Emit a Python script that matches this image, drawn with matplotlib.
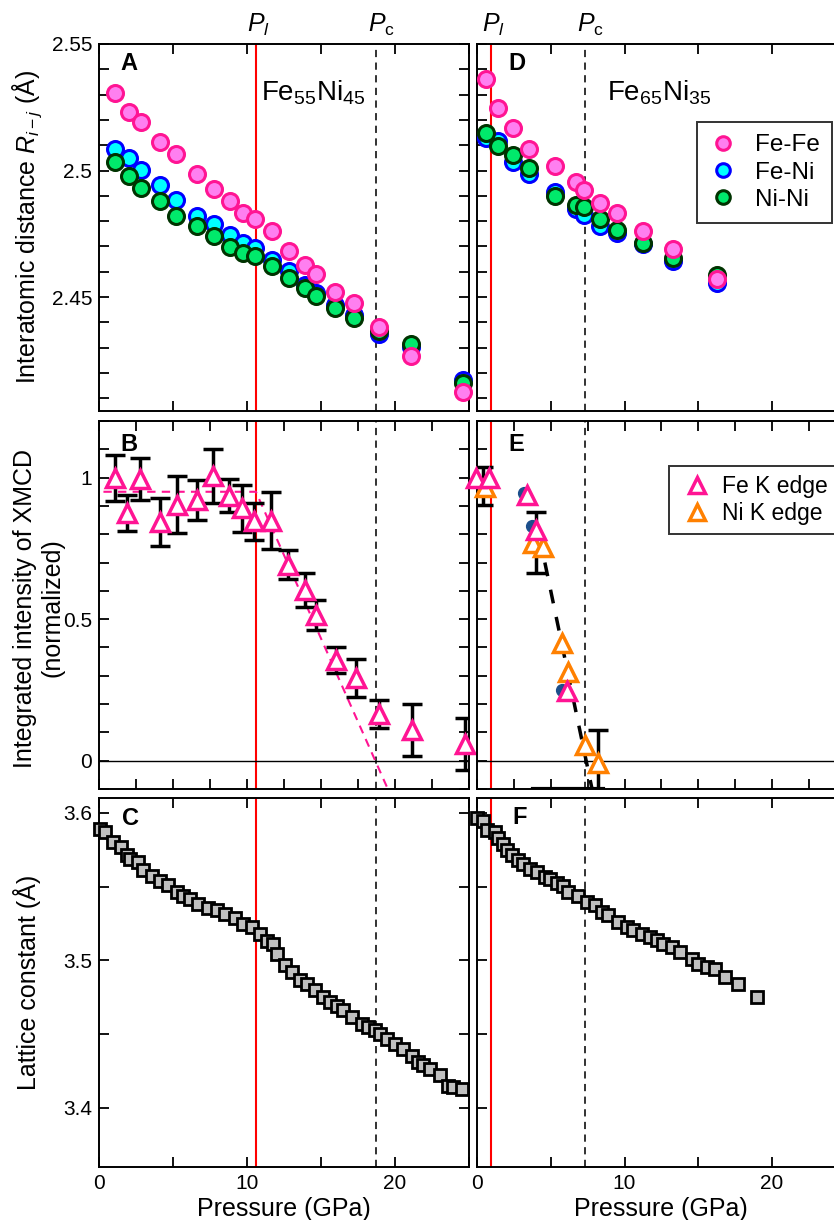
import matplotlib
matplotlib.use("Agg")
import matplotlib.pyplot as plt
import matplotlib.transforms as mtransforms
from matplotlib.ticker import MultipleLocator, FuncFormatter, FixedLocator

plt.rcParams['font.family'] = ['Liberation Sans', 'DejaVu Sans']
plt.rcParams['mathtext.fontset'] = 'custom'
plt.rcParams['mathtext.rm'] = 'Liberation Sans'
plt.rcParams['mathtext.it'] = 'Liberation Sans:italic'
plt.rcParams['mathtext.bf'] = 'Liberation Sans:bold'

# ---------------- data ----------------
# Panel A: Fe55Ni45 interatomic distances
pA = [1.08, 2.03, 2.82, 4.12, 5.23, 6.6, 7.75, 8.87, 9.71, 10.52, 11.67, 12.82,
      13.92, 14.64, 15.95, 17.25, 18.94, 21.08, 24.6]
feFeA = [2.5305, 2.5232, 2.5190, 2.5112, 2.5067, 2.4987, 2.4928, 2.4878, 2.4832,
         2.4807, 2.4761, 2.4684, 2.4626, 2.4592, 2.4521, 2.4478, 2.4383, 2.4268, 2.4124]
feNiA = [2.5085, 2.5049, 2.5003, 2.4944, 2.4882, 2.4819, 2.4790, 2.4744, 2.4714,
         2.4694, 2.4646, 2.4602, 2.4546, 2.4517, 2.4467, 2.4431, 2.4353, 2.4301, 2.4172]
niNiA = [2.5035, 2.4980, 2.4933, 2.4878, 2.4822, 2.4782, 2.4743, 2.4698, 2.4675,
         2.4661, 2.4622, 2.4576, 2.4537, 2.4504, 2.4456, 2.4419, 2.4366, 2.4314, 2.4159]

# Panel D: Fe65Ni35 interatomic distances
pD = [0.61, 1.44, 2.46, 3.53, 5.31, 6.71, 7.28, 8.34, 9.47, 11.28, 13.31, 16.25]
feFeD = [2.5361, 2.5248, 2.5169, 2.5085, 2.5017, 2.4956, 2.4924, 2.4872, 2.4832,
         2.4761, 2.4691, 2.4572]
feNiD = [2.5128, 2.5117, 2.5035, 2.4987, 2.4915, 2.4849, 2.4823, 2.4780, 2.4754,
         2.4711, 2.4642, 2.4554]
niNiD = [2.5147, 2.5098, 2.5062, 2.5012, 2.4898, 2.4865, 2.4856, 2.4809, 2.4767,
         2.4714, 2.4655, 2.4589]

# Panel B: XMCD Fe K edge, Fe55Ni45
pB = [1.08, 1.91, 2.77, 4.12, 5.25, 6.6, 7.72, 8.81, 9.64, 10.47, 11.62, 12.79,
      13.92, 14.64, 15.99, 17.34, 18.92, 21.13, 24.73]
xmcdB = [1.0, 0.875, 0.995, 0.843, 0.905, 0.922, 1.005, 0.936, 0.892, 0.846, 0.848,
         0.693, 0.604, 0.515, 0.355, 0.292, 0.165, 0.107, 0.060]
errB = [0.081, 0.065, 0.073, 0.084, 0.10, 0.07, 0.096, 0.058, 0.083, 0.066, 0.10,
        0.05, 0.06, 0.052, 0.045, 0.067, 0.05, 0.092, 0.092]
fitB_x = [0.3, 10.6, 19.6]
fitB_y = [0.95, 0.95, -0.11]

# Panel E: XMCD Fe65Ni35
feK_x = [-0.07, 0.81, 3.41, 4.0, 6.08]
feK_y = [1.0, 1.0, 0.939, 0.815, 0.245]
niK_x = [0.54, 3.82, 4.5, 5.74, 6.19, 7.32, 8.22]
niK_y = [0.968, 0.768, 0.756, 0.415, 0.315, 0.056, -0.008]
dot_x = [3.2, 3.7, 5.75]
dot_y = [0.945, 0.83, 0.25]
errE_x = [0.41, 4.0, 8.2]
errE_y = [0.971, 0.772, -0.008]
errE = [0.068, 0.108, 0.117]
fitE_x = [4.6, 7.8]
fitE_y = [0.70, -0.10]

# Panel C: lattice constant Fe55Ni45
pC = [0.07, 0.41, 0.97, 1.46, 1.91, 2.09, 2.66, 3.0, 3.56, 4.12, 4.68, 5.25, 5.70,
      6.15, 6.71, 7.39, 7.95, 8.51, 9.19, 9.75, 10.32, 10.88, 11.33, 11.78, 12.0,
      12.57, 13.02, 13.58, 14.03, 14.59, 15.16, 15.61, 16.06, 16.51, 17.07, 17.75,
      18.2, 18.65, 18.99, 19.44, 20.0, 20.56, 21.13, 21.58, 21.91, 22.36, 23.04,
      23.6, 23.94, 24.5]
latC = [3.589, 3.5871, 3.5803, 3.5769, 3.5713, 3.569, 3.5668, 3.5611, 3.557, 3.5539,
        3.5509, 3.5464, 3.5434, 3.5419, 3.5385, 3.5358, 3.534, 3.5317, 3.529, 3.5249,
        3.5226, 3.5181, 3.5131, 3.5109, 3.5045, 3.4966, 3.4921, 3.4864, 3.4842,
        3.4796, 3.4751, 3.4717, 3.4688, 3.4661, 3.4615, 3.457, 3.4547, 3.4525,
        3.4502, 3.4468, 3.4434, 3.44, 3.4355, 3.431, 3.4294, 3.4265, 3.422, 3.4151,
        3.414, 3.4129]

# Panel F: lattice constant Fe65Ni35
pF = [0.02, 0.43, 0.66, 1.22, 1.45, 1.79, 2.01, 2.35, 2.8, 3.14, 3.59, 4.05, 4.61,
      4.95, 5.45, 5.81, 6.19, 6.87, 7.44, 8.0, 8.45, 8.9, 9.58, 10.15, 10.6, 11.16,
      11.73, 12.18, 12.63, 13.2, 13.76, 14.55, 15.0, 15.57, 16.14, 16.81, 17.72, 18.96]
latF = [3.5962, 3.5946, 3.5883, 3.5871, 3.5826, 3.5788, 3.5747, 3.5713, 3.5679,
        3.5656, 3.5622, 3.56, 3.5566, 3.5554, 3.5521, 3.5502, 3.5464, 3.5434, 3.5396,
        3.5373, 3.5328, 3.5306, 3.526, 3.5226, 3.5204, 3.5181, 3.5158, 3.5136,
        3.5109, 3.509, 3.5057, 3.5011, 3.4977, 3.4955, 3.4943, 3.4887, 3.4842, 3.4751]

# transition pressures
Pl_left, Pc_left = 10.6, 18.7
Pl_right, Pc_right = 0.97, 7.32

# ---------------- styling ----------------
PINK_EDGE = '#ff1493'
PINK_FACE = '#ff7ff0'
BLUE_EDGE = '#0000ff'
CYAN_FACE = '#00ffff'
GREEN_EDGE = '#003300'
GREEN_FACE = '#00e96b'
ORANGE = '#ff8000'
NAVY = '#1c4f8c'
GRAY = '#c0c0c0'

W, H = 834, 1220
fig = plt.figure(figsize=(W / 100, H / 100), dpi=100)


def axpos(x0, y0, x1, y1):
    return [x0 / W, 1 - y1 / H, (x1 - x0) / W, (y1 - y0) / H]


RW = 25 * 14.75  # right column axes width in px (extends past the figure edge)
axA = fig.add_axes(axpos(99, 44, 469, 411))
axD = fig.add_axes(axpos(477, 44, 477 + RW, 411))
axB = fig.add_axes(axpos(99, 421, 469, 789))
axE = fig.add_axes(axpos(477, 421, 477 + RW, 789))
axC = fig.add_axes(axpos(99, 798, 469, 1167))
axF = fig.add_axes(axpos(477, 798, 477 + RW, 1167))

fmt = FuncFormatter(lambda v, p: '%g' % round(v, 3))


def style(ax, xminor, ylim, ymajor, yminor, xlabels, ylabels):
    ax.set_xlim(0, 25)
    ax.set_ylim(*ylim)
    ax.xaxis.set_major_locator(FixedLocator([0, 10, 20]))
    ax.xaxis.set_minor_locator(MultipleLocator(xminor))
    ax.yaxis.set_major_locator(MultipleLocator(ymajor))
    ax.yaxis.set_minor_locator(MultipleLocator(yminor))
    ax.yaxis.set_major_formatter(fmt)
    ax.xaxis.set_major_formatter(fmt)
    ax.tick_params(which='both', direction='in', top=True, right=True,
                   length=7, width=1.3, labelsize=15, pad=5,
                   labelbottom=xlabels, labelleft=ylabels)
    for s in ax.spines.values():
        s.set_linewidth(1.4)


style(axA, 5, (2.405, 2.55), 0.05, 0.01, False, True)
style(axD, 5, (2.405, 2.55), 0.05, 0.01, False, False)
style(axB, 2.5, (-0.1, 1.2), 0.5, 0.1, False, True)
style(axE, 2.5, (-0.1, 1.2), 0.5, 0.1, False, False)
style(axC, 5, (3.36, 3.61), 0.1, 0.05, True, True)
style(axF, 5, (3.36, 3.61), 0.1, 0.05, True, False)

# vertical reference lines
for ax in (axA, axB, axC):
    ax.axvline(Pl_left, color='#ff0000', lw=1.5, zorder=1)
    ax.axvline(Pc_left, color='#222222', lw=1.3, dashes=(4, 3), zorder=1)
for ax in (axD, axE, axF):
    ax.axvline(Pl_right, color='#ff0000', lw=1.5, zorder=1)
    ax.axvline(Pc_right, color='#222222', lw=1.3, dashes=(4, 3), zorder=1)

# ---- A & D ----
circ = dict(ls='none', marker='o', ms=11.5, mew=2.2, clip_on=False)
for ax, px, ff, fn, nn in ((axA, pA, feFeA, feNiA, niNiA), (axD, pD, feFeD, feNiD, niNiD)):
    h2, = ax.plot(px, fn, mfc=CYAN_FACE, mec=BLUE_EDGE, zorder=3, label='Fe-Ni', **circ)
    h3, = ax.plot(px, nn, mfc=GREEN_FACE, mec=GREEN_EDGE, zorder=4, label='Ni-Ni', **circ)
    h1, = ax.plot(px, ff, mfc=PINK_FACE, mec=PINK_EDGE, zorder=5, label='Fe-Fe', **circ)
    if ax is axD:
        leg = ax.legend(handles=[h1, h2, h3], loc='upper right',
                        bbox_to_anchor=((832 - 477) / RW, 1 - (122 - 44) / 367),
                        fontsize=17.5, frameon=True, fancybox=False, edgecolor='black',
                        markerscale=0.85, handletextpad=0.7, borderpad=0.5,
                        labelspacing=0.22, handlelength=1.2, borderaxespad=0)
        leg.get_frame().set_linewidth(1.4)

axA.text(10.95, 2.5306, r'Fe$_{55}$Ni$_{45}$', fontsize=20, ha='left', va='center')
axD.text(8.79, 2.5306, r'Fe$_{65}$Ni$_{35}$', fontsize=20, ha='left', va='center')

# ---- B ----
axB.axhline(0, color='black', lw=1.0, zorder=1)
axB.plot(fitB_x, fitB_y, color=PINK_EDGE, lw=1.5, dashes=(4, 3), zorder=2)
axB.errorbar(pB, xmcdB, yerr=errB, fmt='none', ecolor='black', elinewidth=2.5,
             capsize=7, capthick=2.5, zorder=3)
tri = dict(ls='none', marker='^', ms=13, mew=2.5, mfc='white', clip_on=False)
axB.plot(pB, xmcdB, mec=PINK_EDGE, zorder=4, **tri)

# ---- E ----
axE.axhline(0, color='black', lw=1.0, zorder=1)
axE.plot([3.8, 8.55], [-0.1, -0.1], color='black', lw=3, zorder=2)
axE.plot(fitE_x, fitE_y, color='black', lw=2.5, dashes=(4, 4), zorder=2)
axE.errorbar(errE_x, errE_y, yerr=errE, fmt='none', ecolor='black', elinewidth=2.5,
             capsize=7, capthick=2.5, zorder=3)
axE.plot(dot_x, dot_y, ls='none', marker='o', ms=8.5, mfc=NAVY, mec=NAVY, zorder=3)
hN, = axE.plot(niK_x, niK_y, mec=ORANGE, zorder=4, label='Ni K edge', **tri)
hF, = axE.plot(feK_x, feK_y, mec=PINK_EDGE, zorder=5, label='Fe K edge', **tri)
legE = axE.legend(handles=[hF, hN], loc='upper left',
                  bbox_to_anchor=((669 - 477) / RW, 1 - (466 - 421) / 368),
                  fontsize=16.5, frameon=True, fancybox=False, edgecolor='black',
                  markerscale=0.9, handletextpad=0.3, borderpad=0.4,
                  labelspacing=0.15, handlelength=1.6, borderaxespad=0)
legE.get_frame().set_linewidth(1.4)

# ---- C & F ----
sq = dict(ls='none', marker='s', ms=8, mew=2.0, mfc=GRAY, mec='black', clip_on=False)
axC.plot(pC, latC, zorder=3, **sq)
axF.plot(pF, latF, zorder=3, **sq)

for ax in (axC, axF):
    ax.set_xlabel('Pressure (GPa)', fontsize=18, labelpad=3)

# panel letters
for ax, lab, xf, yf in ((axA, 'A', 0.057, 0.978), (axB, 'B', 0.057, 0.967),
                         (axC, 'C', 0.062, 0.976), (axD, 'D', 0.085, 0.978),
                         (axE, 'E', 0.085, 0.967), (axF, 'F', 0.095, 0.978)):
    ax.text(xf, yf, lab, transform=ax.transAxes, fontsize=17, fontweight='bold',
            ha='left', va='top')

# P_l / P_c labels
for ax, pl, pc in ((axA, Pl_left, Pc_left), (axD, Pl_right, Pc_right)):
    tr = mtransforms.blended_transform_factory(ax.transData, ax.transAxes)
    yy = 1 + 12 / 367
    ax.text(pl + 0.15, yy, r'$P_l$', transform=tr, fontsize=18, ha='center', va='baseline')
    ax.text(pc + 0.4, yy, r'$P_\mathrm{c}$', transform=tr, fontsize=18, ha='center', va='baseline')

# y labels
fig.text(27 / W, 1 - 227 / H, r'Interatomic distance $R_{i-j}$ (Å)', rotation=90,
         fontsize=18, ha='center', va='center')
fig.text(39 / W, 1 - 608 / H, 'Integrated intensity of XMCD\n(normalized)', rotation=90,
         fontsize=18, ha='center', va='center', linespacing=1.2, multialignment='center')
fig.text(27 / W, 1 - 982 / H, 'Lattice constant (Å)', rotation=90,
         fontsize=18, ha='center', va='center')

fig.savefig('out.png', dpi=100)
